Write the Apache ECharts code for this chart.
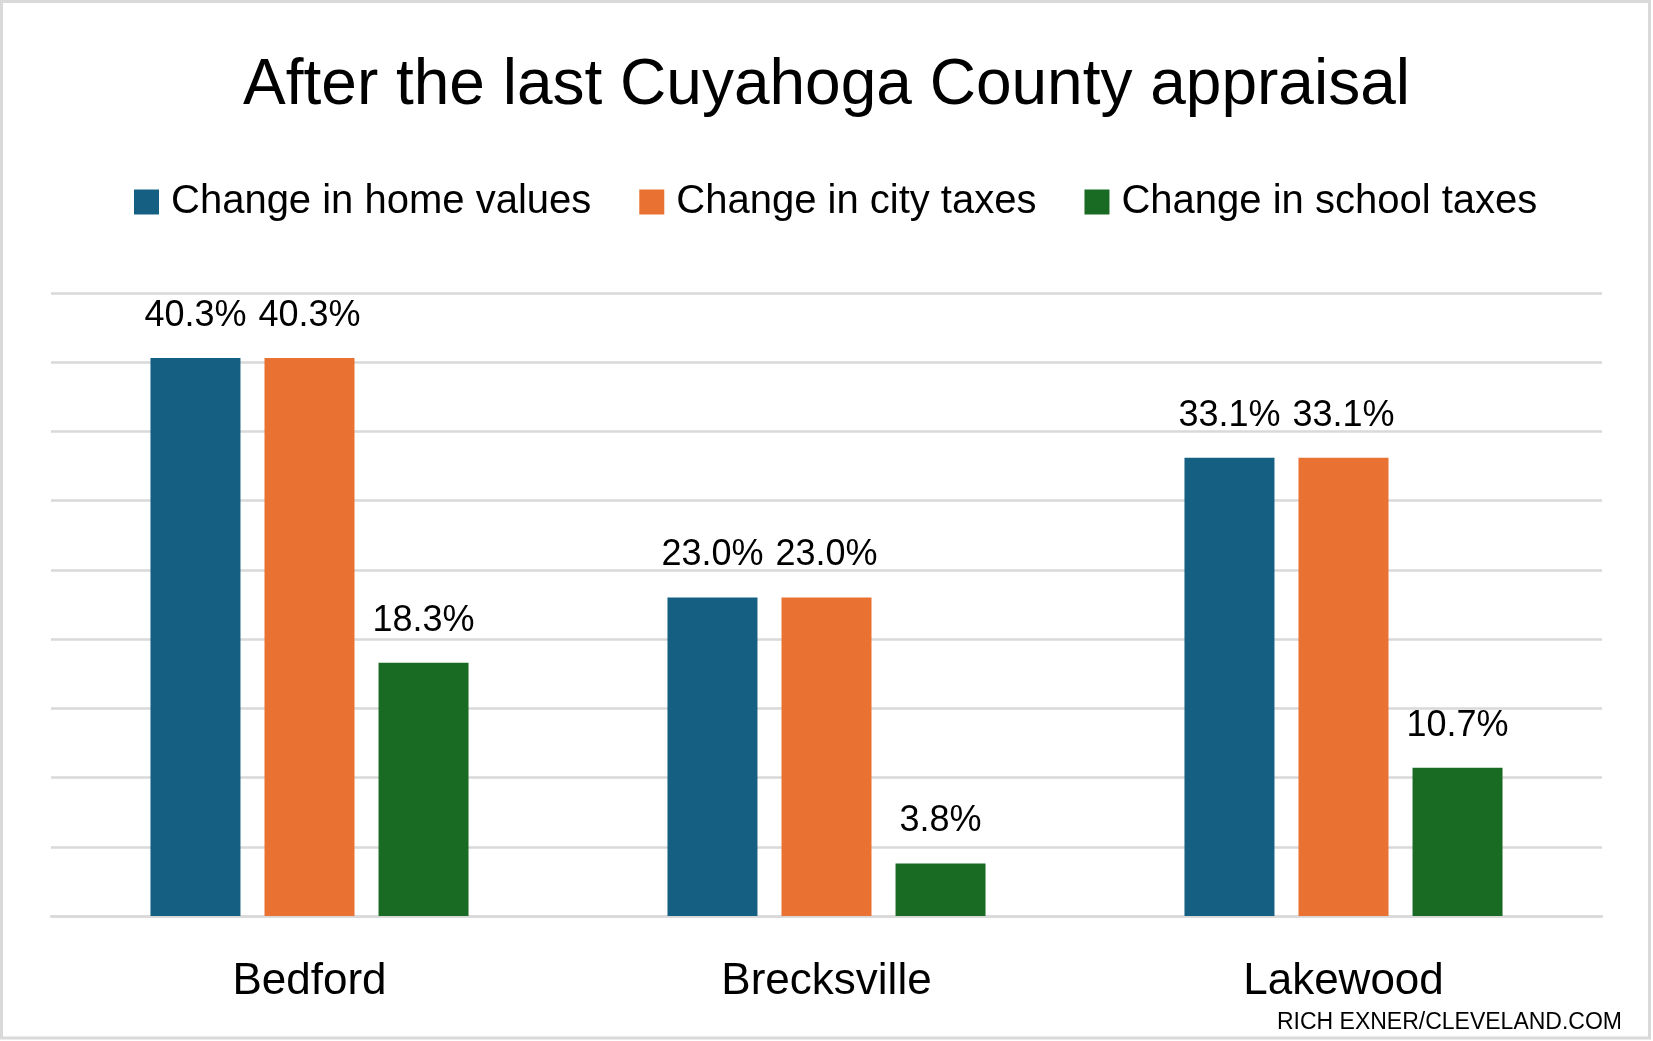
<!DOCTYPE html>
<html>
<head>
<meta charset="utf-8">
<script src="https://cdn.jsdelivr.net/npm/echarts@6/dist/echarts.min.js"></script>
<style>
html,body{margin:0;padding:0;background:#fff;}
#c{width:1653px;height:1041px;}
</style>
</head>
<body>
<div id="c"></div>
<script>
const categories = ['Bedford', 'Brecksville', 'Lakewood'];
const seriesNames = ['Change in home values', 'Change in city taxes', 'Change in school taxes'];
const homeValues = [40.3, 23.0, 33.1];
const cityTaxes = [40.3, 23.0, 33.1];
const schoolTaxes = [18.3, 3.8, 10.7];
const colors = ['#156082', '#E97132', '#196B24'];

const chart = echarts.init(document.getElementById('c'));
const fontMain = '"Liberation Sans", Arial, sans-serif';

function mkSeries(name, data, color) {
  return {
    name: name,
    type: 'bar',
    data: data,
    barWidth: 90,
    barGap: '26.7%',
    itemStyle: { color: color },
    label: {
      show: true,
      position: 'top',
      distance: 24,
      fontFamily: fontMain,
      fontSize: 36,
      color: '#000',
      formatter: p => p.value.toFixed(1) + '%'
    }
  };
}

chart.setOption({
  backgroundColor: '#fff',
  animation: false,
  title: {
    text: 'After the last Cuyahoga County appraisal',
    left: 'center',
    top: 49,
    textStyle: { fontFamily: fontMain, fontSize: 64, fontWeight: 'normal', color: '#000' }
  },
  legend: {
    data: seriesNames,
    left: 129,
    top: 177,
    itemWidth: 25,
    itemHeight: 25,
    itemGap: 48,
    icon: 'rect',
    textStyle: { fontFamily: fontMain, fontSize: 40, color: '#000', padding: [0, 0, 0, 7] }
  },
  grid: { left: 51, right: 51, top: 293, bottom: 125 },
  xAxis: {
    type: 'category',
    data: categories,
    axisLine: { show: true, lineStyle: { color: '#D9D9D9', width: 2.5 } },
    axisTick: { show: false },
    axisLabel: { margin: 44, fontFamily: fontMain, fontSize: 44, color: '#000' }
  },
  yAxis: {
    type: 'value',
    min: 0,
    max: 45,
    interval: 5,
    axisLabel: { show: false },
    axisLine: { show: false },
    axisTick: { show: false },
    splitLine: { lineStyle: { color: '#D9D9D9', width: 2.5 } }
  },
  series: [
    mkSeries(seriesNames[0], homeValues, colors[0]),
    mkSeries(seriesNames[1], cityTaxes, colors[1]),
    mkSeries(seriesNames[2], schoolTaxes, colors[2])
  ],
  graphic: [
    {
      type: 'rect',
      shape: { x: 1.5, y: 1.5, width: 1648, height: 1036.5 },
      style: { fill: 'none', stroke: '#D9D9D9', lineWidth: 3 },
      silent: true
    },
    {
      type: 'text',
      right: 31,
      top: 1011,
      style: { text: 'RICH EXNER/CLEVELAND.COM', fontFamily: fontMain, fontSize: 23, fill: '#000' }
    }
  ]
});
</script>
</body>
</html>
